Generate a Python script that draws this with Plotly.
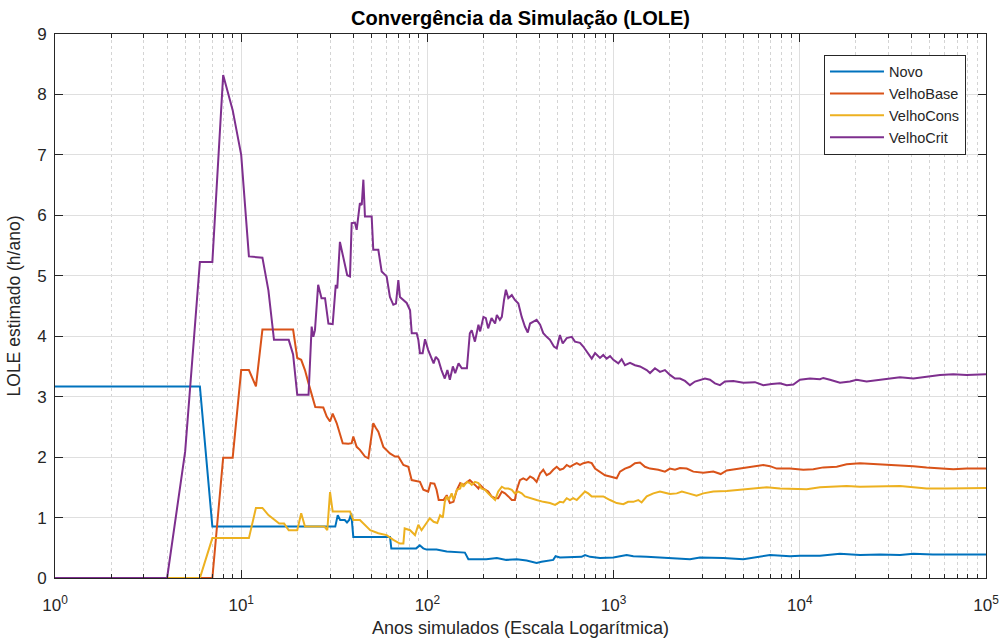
import plotly.graph_objects as go

# ---- data ----
novo_x = [1, 6, 7, 32, 33, 34, 36, 37, 38, 39, 40, 63, 64, 87, 91, 95, 99, 112, 127, 159, 166, 207,
          236, 265, 302, 341, 386, 410, 474, 488, 515, 607, 673, 702, 748, 845, 997, 1175, 1276,
          1506, 1774, 2184, 2571, 2910, 3293, 3882, 4975, 5869, 6918, 8856, 10020, 12840, 16430,
          21050, 26970, 34530, 40730, 51820, 66720, 100000]
novo_y = [3.17, 3.17, 0.85, 0.85, 1.04, 0.96, 0.96, 0.92, 0.96, 1.07, 0.68, 0.68, 0.49, 0.49, 0.54,
          0.49, 0.47, 0.47, 0.44, 0.42, 0.31, 0.31, 0.33, 0.30, 0.31, 0.29, 0.25, 0.27, 0.30, 0.36,
          0.34, 0.34, 0.35, 0.38, 0.35, 0.33, 0.34, 0.38, 0.36, 0.35, 0.34, 0.33, 0.31, 0.34, 0.34,
          0.33, 0.31, 0.35, 0.38, 0.36, 0.37, 0.37, 0.40, 0.38, 0.39, 0.38, 0.40, 0.39, 0.39, 0.39]

base_x = [1, 7, 8, 9, 10, 11, 12, 13, 19, 20, 21, 22, 23, 24, 25, 27.6, 28.8, 30, 31, 32.6, 33.9,
          35.1, 37.6, 39.2, 40, 41.7, 43.4, 46.2, 48.2, 50.2, 51.2, 52.9, 54.5, 58, 62.9, 67, 69.8,
          74.3, 79, 82.3, 91.2, 95.1, 101, 104, 109, 112, 115, 122, 127, 132, 138, 144, 150, 156,
          163, 169, 180, 188, 192, 200, 212, 221, 231, 240, 251, 261, 272, 284, 295, 302, 314, 327,
          341, 356, 371, 386, 403, 419, 437, 455, 474, 495, 515, 537, 560, 583, 607, 634, 660, 688,
          731, 763, 795, 845, 899, 957, 997, 1039, 1082, 1151, 1225, 1303, 1386, 1474, 1569, 1738,
          1887, 2008, 2136, 2272, 2470, 2681, 3033, 3432, 3760, 4050, 4772, 5624, 6367, 6918, 7510,
          8856, 10440, 11820, 13370, 15790, 17850, 21050, 24830, 29290, 34530, 40730, 47990, 56620,
          66720, 78740, 100000]
base_y = [0, 0, 1.99, 1.99, 3.44, 3.44, 3.17, 4.11, 4.11, 3.64, 3.61, 3.44, 3.22, 3.00, 2.83, 2.82,
          2.67, 2.59, 2.72, 2.56, 2.39, 2.23, 2.22, 2.23, 2.34, 2.17, 2.12, 2.01, 1.98, 2.34, 2.56,
          2.48, 2.42, 2.17, 2.06, 2.01, 2.01, 1.87, 1.84, 1.62, 1.59, 1.46, 1.43, 1.57, 1.56, 1.46,
          1.29, 1.29, 1.37, 1.24, 1.26, 1.46, 1.57, 1.54, 1.59, 1.62, 1.54, 1.48, 1.54, 1.48, 1.43,
          1.35, 1.32, 1.32, 1.43, 1.40, 1.35, 1.29, 1.29, 1.46, 1.62, 1.65, 1.62, 1.68, 1.65, 1.59,
          1.73, 1.79, 1.70, 1.73, 1.79, 1.84, 1.79, 1.81, 1.87, 1.84, 1.87, 1.90, 1.87, 1.90, 1.92,
          1.90, 1.81, 1.76, 1.70, 1.68, 1.67, 1.65, 1.76, 1.81, 1.84, 1.90, 1.91, 1.84, 1.81, 1.79,
          1.76, 1.81, 1.79, 1.82, 1.81, 1.76, 1.74, 1.76, 1.72, 1.78, 1.81, 1.84, 1.87, 1.85, 1.81,
          1.81, 1.79, 1.80, 1.83, 1.84, 1.88, 1.90, 1.89, 1.88, 1.86, 1.85, 1.83, 1.81, 1.80, 1.81,
          1.81]

cons_x = [1, 6, 7, 11, 12, 13, 14, 15, 16, 17, 18, 20, 21, 22, 28, 29, 30, 31, 38.4, 40, 43.4, 49.3,
          54.5, 60.4, 65.6, 71.2, 74.3, 75.5, 80.7, 85.8, 89.4, 93, 98.8, 103, 108, 113, 117, 121,
          124, 127, 130, 135, 138, 144, 150, 153, 156, 163, 169, 173, 180, 188, 195, 204, 212, 221,
          231, 240, 251, 261, 272, 284, 295, 308, 321, 334, 356, 386, 419, 455, 485, 515, 537, 560,
          583, 607, 634, 673, 702, 731, 763, 812, 880, 957, 1039, 1128, 1197, 1276, 1357, 1414, 1506,
          1635, 1774, 1887, 2008, 2184, 2326, 2523, 2790, 3033, 3432, 4050, 4772, 5624, 6637, 7828,
          9235, 10890, 12840, 15150, 17850, 21050, 24830, 29290, 34530, 40730, 47990, 61450, 78740,
          100000]
cons_y = [0, 0, 0.66, 0.66, 1.16, 1.16, 1.04, 0.96, 0.90, 0.90, 0.79, 0.79, 1.07, 0.85, 0.85, 0.79,
          1.42, 1.10, 1.10, 0.96, 0.96, 0.79, 0.74, 0.71, 0.63, 0.57, 0.57, 0.82, 0.79, 0.71, 0.88,
          0.79, 0.90, 0.99, 0.93, 0.91, 1.04, 1.00, 1.26, 1.35, 1.29, 1.40, 1.29, 1.46, 1.48, 1.57,
          1.51, 1.59, 1.57, 1.54, 1.59, 1.57, 1.48, 1.46, 1.40, 1.35, 1.29, 1.43, 1.51, 1.48, 1.48,
          1.46, 1.40, 1.43, 1.40, 1.35, 1.32, 1.29, 1.26, 1.24, 1.21, 1.26, 1.25, 1.32, 1.29, 1.32,
          1.29, 1.37, 1.43, 1.40, 1.35, 1.35, 1.35, 1.29, 1.24, 1.22, 1.26, 1.26, 1.29, 1.25, 1.35,
          1.40, 1.43, 1.41, 1.39, 1.40, 1.43, 1.40, 1.36, 1.40, 1.43, 1.44, 1.46, 1.48, 1.50, 1.48,
          1.48, 1.47, 1.50, 1.51, 1.52, 1.51, 1.51, 1.52, 1.52, 1.50, 1.48, 1.48, 1.49, 1.49]

crit_x = [1, 4, 5, 6, 7, 8, 9, 10, 11, 13, 14, 15, 18, 19, 20, 23, 23.9, 24.4, 24.9, 25.9, 27, 28.2,
          29.4, 31, 32.2, 32.8, 33.9, 35.3, 37.1, 38.4, 39.2, 40.8, 41.7, 43.4, 44.4, 45.3, 46.2,
          50.2, 51.2, 54.5, 56.8, 60.4, 62.9, 65.6, 67.8, 69.8, 71.2, 77.4, 80.7, 82.4, 87.6, 89.4,
          91.2, 94.3, 97.1, 101, 108, 111, 114.5, 119, 124, 128, 132, 137, 141, 147, 153, 163, 169,
          173, 180, 188, 192, 200, 206, 212, 221, 231, 236, 245, 251, 258, 264, 272, 284, 295, 308,
          321, 334, 346, 356, 371, 386, 403, 419, 437, 455, 478, 495, 515, 533, 560, 596, 620, 660,
          687, 717, 763, 795, 845, 880, 918, 957, 997, 1060, 1105, 1151, 1225, 1303, 1386, 1506,
          1569, 1668, 1774, 1887, 2008, 2136, 2272, 2417, 2571, 2735, 2910, 3095, 3293, 3503, 3726,
          3964, 4395, 4975, 5743, 6367, 7058, 7828, 8505, 9235, 10020, 11340, 12840, 13370, 14520,
          16430, 18600, 20200, 22850, 26970, 29290, 34530, 40730, 47990, 56620, 66720, 78740, 100000]
crit_y = [0, 0, 2.09, 5.23, 5.23, 8.32, 7.74, 7.00, 5.32, 5.30, 4.76, 3.94, 3.94, 3.70, 3.03, 3.03,
          4.16, 3.99, 4.10, 4.85, 4.63, 4.63, 4.21, 4.20, 4.85, 4.79, 5.56, 5.32, 5.01, 4.99, 5.87,
          5.88, 5.76, 6.20, 6.17, 6.59, 5.98, 5.98, 5.43, 5.43, 5.07, 4.99, 4.65, 4.52, 4.54, 4.93,
          4.65, 4.55, 4.43, 4.05, 4.05, 3.94, 3.72, 3.72, 3.95, 3.77, 3.55, 3.66, 3.61, 3.44, 3.30,
          3.44, 3.28, 3.50, 3.39, 3.55, 3.47, 3.47, 4.05, 4.10, 3.91, 4.19, 4.08, 4.32, 4.30, 4.13,
          4.30, 4.21, 4.35, 4.27, 4.32, 4.60, 4.77, 4.63, 4.68, 4.60, 4.54, 4.32, 4.16, 4.06, 4.21,
          4.24, 4.27, 4.19, 4.05, 3.99, 3.94, 3.83, 3.80, 4.02, 3.88, 3.97, 3.99, 3.91, 3.89, 3.83,
          3.74, 3.63, 3.72, 3.64, 3.69, 3.63, 3.67, 3.61, 3.55, 3.62, 3.52, 3.56, 3.52, 3.50, 3.44,
          3.39, 3.47, 3.41, 3.44, 3.36, 3.30, 3.30, 3.26, 3.19, 3.25, 3.28, 3.30, 3.28, 3.22, 3.19,
          3.25, 3.26, 3.23, 3.24, 3.19, 3.21, 3.22, 3.19, 3.20, 3.28, 3.30, 3.29, 3.31, 3.28, 3.23,
          3.25, 3.28, 3.25, 3.28, 3.30, 3.32, 3.30, 3.33, 3.36, 3.37, 3.36, 3.37]

series_names = ["Novo", "VelhoBase", "VelhoCons", "VelhoCrit"]
series_colors = ["#0072BD", "#D95319", "#EDB120", "#7E2F8E"]

x_tickvals = [1, 10, 100, 1000, 10000, 100000]
x_ticktext = ["10<sup>%d</sup>" % i for i in range(6)]
y_tickvals = list(range(10))
minor_vals = [m * 10 ** k for k in range(5) for m in range(2, 10)]

FONT = "Liberation Sans, Arial, sans-serif"

fig = go.Figure()
for name, color, xs, ys in zip(series_names, series_colors,
                               [novo_x, base_x, cons_x, crit_x],
                               [novo_y, base_y, cons_y, crit_y]):
    fig.add_trace(go.Scatter(x=xs, y=ys, mode="lines", name=name,
                             line=dict(color=color, width=2)))

tick_font = dict(family=FONT, size=17, color="#262626")

fig.update_layout(
    width=1003, height=641,
    margin=dict(l=55, r=17, t=34, b=63, autoexpand=False),
    paper_bgcolor="white", plot_bgcolor="white",
    font=tick_font,
    title=dict(text="<b>Convergência da Simulação (LOLE)</b>",
               x=0.5, xref="paper", xanchor="center", y=1 - 18 / 641, yref="container",
               yanchor="middle",
               font=dict(family=FONT, size=20, color="#000000")),
    legend=dict(x=0.9785, y=0.962, xanchor="right", yanchor="top",
                bgcolor="white", bordercolor="#262626", borderwidth=1,
                font=dict(family=FONT, size=14.5, color="#262626"),
                itemwidth=54, tracegroupgap=0),
    showlegend=True,
)

fig.update_xaxes(
    type="log", range=[0, 5], automargin=False,
    tickmode="array", tickvals=x_tickvals, ticktext=x_ticktext,
    ticks="inside", ticklen=8, tickcolor="#262626", tickwidth=1,
    ticklabelstandoff=12,
    showline=True, linecolor="#262626", linewidth=1, mirror="allticks",
    showgrid=True, gridcolor="#dfdfdf", gridwidth=1,
    zeroline=False,
    minor=dict(tickmode="array", tickvals=minor_vals, ticks="inside", ticklen=4,
               tickcolor="#262626", showgrid=True, gridcolor="#d4d4d4",
               griddash="dot", gridwidth=1),
    title=dict(text="Anos simulados (Escala Logarítmica)", standoff=6,
               font=dict(family=FONT, size=18, color="#262626")),
    tickfont=tick_font,
)
fig.update_yaxes(
    range=[0, 9], automargin=False, tickmode="array", tickvals=y_tickvals,
    ticks="inside", ticklen=8, tickcolor="#262626", tickwidth=1,
    ticklabelstandoff=4,
    showline=True, linecolor="#262626", linewidth=1, mirror="ticks",
    showgrid=True, gridcolor="#dfdfdf", gridwidth=1,
    zeroline=False,
    title=dict(text="LOLE estimado (h/ano)", standoff=12,
               font=dict(family=FONT, size=17.5, color="#262626")),
    tickfont=tick_font,
)

fig.write_html("out.html",
               config={"displayModeBar": False},
               post_script="document.body.style.margin='0';document.body.style.overflow='hidden';")
